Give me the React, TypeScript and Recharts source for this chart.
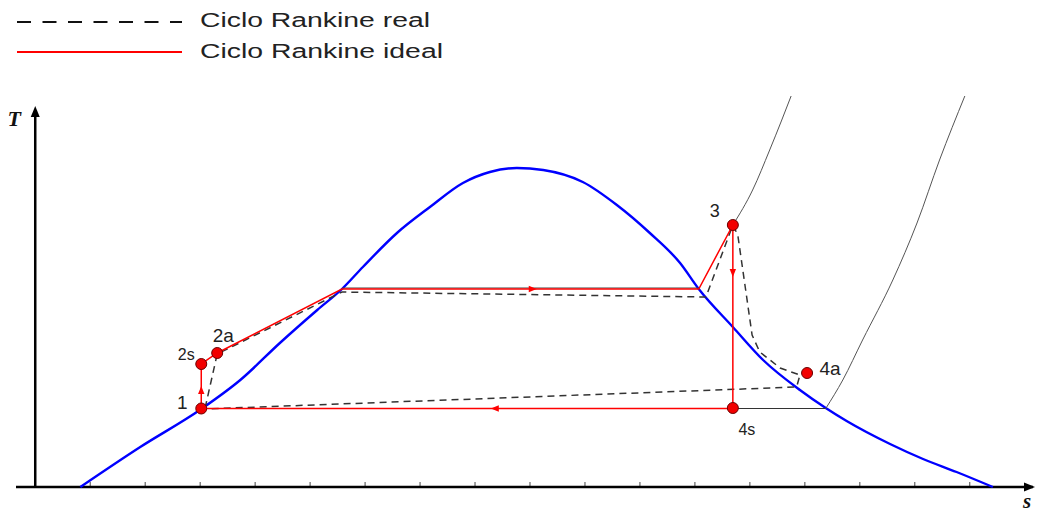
import React from 'react';
import { ScatterChart, Scatter, XAxis, YAxis, ReferenceLine, ReferenceDot, Legend } from 'recharts';

// T-s diagram, arbitrary units (s along x, T up)
const S_TICKS = [1, 2, 3, 4, 5, 6, 7, 8, 9, 10, 11, 12, 13, 14, 15, 16, 17];

// saturation dome
const DOME = [
  { s: 0.82, T: 0 }, { s: 1.91, T: 4.0 }, { s: 3.02, T: 7.8 }, { s: 3.73, T: 10.7 },
  { s: 4.45, T: 14.4 }, { s: 5.13, T: 17.7 }, { s: 5.58, T: 19.8 }, { s: 5.96, T: 22.0 },
  { s: 6.58, T: 25.4 }, { s: 7.18, T: 28.0 }, { s: 7.78, T: 30.4 }, { s: 8.27, T: 31.5 },
  { s: 8.76, T: 31.9 }, { s: 9.24, T: 31.7 }, { s: 9.96, T: 30.5 }, { s: 10.58, T: 28.2 },
  { s: 11.18, T: 25.4 }, { s: 11.73, T: 22.4 }, { s: 12.07, T: 19.8 }, { s: 12.69, T: 16.0 },
  { s: 13.24, T: 12.7 }, { s: 13.91, T: 9.7 }, { s: 14.38, T: 7.9 }, { s: 14.76, T: 6.6 },
  { s: 15.55, T: 4.3 }, { s: 16.15, T: 2.8 }, { s: 16.76, T: 1.5 }, { s: 17.42, T: 0 },
];

// isobars (thin grey)
const HIGH_P_FLAT = [{ s: 5.58, T: 19.9 }, { s: 12.07, T: 19.9 }];
const HIGH_P_SUPERHEAT = [
  { s: 12.69, T: 26.2 }, { s: 13.05, T: 29.7 }, { s: 13.36, T: 33.7 }, { s: 13.58, T: 36.7 }, { s: 13.75, T: 39.1 },
];
const LOW_P_FLAT = [{ s: 3.02, T: 7.85 }, { s: 14.38, T: 7.85 }];
const LOW_P_SUPERHEAT = [
  { s: 14.38, T: 7.85 }, { s: 14.69, T: 10.7 }, { s: 15.05, T: 14.7 }, { s: 15.6, T: 20.7 },
  { s: 16.04, T: 26.4 }, { s: 16.45, T: 32.7 }, { s: 16.91, T: 39.1 },
];

// cycles
const IDEAL_CYCLE = [
  { s: 3.02, T: 7.85 }, { s: 3.02, T: 12.3 }, { s: 3.31, T: 13.4 }, { s: 5.58, T: 19.8 },
  { s: 12.07, T: 19.8 }, { s: 12.69, T: 26.2 }, { s: 12.69, T: 7.85 }, { s: 3.02, T: 7.85 },
];
const REAL_CYCLE = [
  { s: 3.09, T: 7.9 }, { s: 3.31, T: 13.3 }, { s: 5.58, T: 19.5 }, { s: 12.2, T: 19.0 },
  { s: 12.69, T: 26.2 }, { s: 12.78, T: 25.2 }, { s: 12.91, T: 20.2 }, { s: 13.04, T: 15.2 },
  { s: 13.18, T: 13.5 }, { s: 13.55, T: 11.9 }, { s: 13.91, T: 11.2 }, { s: 13.85, T: 10.0 },
  { s: 3.09, T: 7.8 },
];

const STATES = [
  { name: '1', s: 3.02, T: 7.85 },
  { name: '2s', s: 3.02, T: 12.3 },
  { name: '2a', s: 3.31, T: 13.4 },
  { name: '3', s: 12.69, T: 26.2 },
  { name: '4s', s: 12.69, T: 7.9 },
  { name: '4a', s: 14.04, T: 11.4 },
];

const FLOW_ARROWS = [
  { s: 3.02, T: 9.7, dir: 'up' },
  { s: 9.05, T: 19.8, dir: 'right' },
  { s: 12.69, T: 21.4, dir: 'down' },
  { s: 8.36, T: 7.85, dir: 'left' },
];

const LEGEND_ITEMS = [
  { name: 'Ciclo Rankine real', color: '#111', dash: '14 11.5' },
  { name: 'Ciclo Rankine ideal', color: '#ff0000', dash: undefined },
];
// the legend lettering is drawn wide in the picture
const LEGEND_TEXT_WIDTH = [230, 243];

const LABEL_STYLE: Record<string, { dx: number; dy: number; size: number }> = {
  '1': { dx: -19, dy: -6, size: 19 },
  '2s': { dx: -15, dy: -10, size: 16 },
  '2a': { dx: 6, dy: -18, size: 19 },
  '3': { dx: -18, dy: -14, size: 18 },
  '4s': { dx: 14, dy: 21, size: 16 },
  '4a': { dx: 23, dy: -5, size: 19 },
};

const SANS = '"Liberation Sans", Arial, sans-serif';
const SERIF = '"Liberation Serif", "Times New Roman", serif';

const NoDot = () => <g />;

const StateDot = (props: any) => {
  const { cx, cy, payload } = props;
  const st = LABEL_STYLE[payload.name];
  return (
    <g>
      <circle cx={cx} cy={cy} r={5.5} fill="#f20000" stroke="#6b0000" strokeWidth={1} />
      <text x={cx + st.dx} y={cy + st.dy} textAnchor="middle" dominantBaseline="central"
        fontFamily={SANS} fontSize={st.size} fill="#222">
        {payload.name}
      </text>
    </g>
  );
};

const FlowArrow = (props: any) => {
  const { cx, cy, payload } = props;
  const rot = ({ right: 0, down: 90, left: 180, up: 270 } as Record<string, number>)[payload.dir];
  return <path d="M4,0 L-4,-3.2 L-4,3.2 Z" fill="#ff0000" transform={`translate(${cx},${cy}) rotate(${rot})`} />;
};

const XArrow = (props: any) => {
  const { cx, cy } = props;
  return (
    <g>
      <path d={`M${cx + 2},${cy} L${cx - 9},${cy - 4.5} L${cx - 9},${cy + 4.5} Z`} fill="#000" />
      <text x={cx - 6} y={cy + 21} textAnchor="middle" fontFamily={SERIF} fontSize={21}
        fontWeight="bold" fontStyle="italic" fill="#111">s</text>
    </g>
  );
};

const YArrow = (props: any) => {
  const { cx, cy } = props;
  return (
    <g>
      <path d={`M${cx},${cy - 2} L${cx - 4.5},${cy + 9} L${cx + 4.5},${cy + 9} Z`} fill="#000" />
      <text x={cx - 21} y={cy + 18} textAnchor="middle" fontFamily={SERIF} fontSize={22}
        fontWeight="bold" fontStyle="italic" fill="#111">T</text>
    </g>
  );
};

const LegendBox = () => (
  <svg width={470} height={66}>
    {LEGEND_ITEMS.map((item, i) => (
      <g key={item.name}>
        <line x1={17} x2={182} y1={22 + i * 30} y2={22 + i * 30} stroke={item.color}
          strokeWidth={2} strokeDasharray={item.dash} />
        <text x={200} y={20 + i * 31} dominantBaseline="central" fontFamily={SANS}
          fontSize={20} fill="#222" textLength={LEGEND_TEXT_WIDTH[i]} lengthAdjust="spacingAndGlyphs">
          {item.name}
        </text>
      </g>
    ))}
  </svg>
);

export default function App() {
  return (
    <div style={{ position: 'fixed', left: 0, top: 0, background: '#fff' }}>
      <ScatterChart width={1047} height={514} margin={{ top: 96, right: 14, bottom: 27, left: 16 }}>
        <XAxis type="number" dataKey="s" domain={[-0.35, 18.15]} ticks={S_TICKS} interval={0}
          mirror tick={false} tickLine={false} axisLine={{ stroke: '#000', strokeWidth: 2.5 }} />
        <YAxis type="number" dataKey="T" domain={[0, 39.1]} hide />
        <Legend layout="horizontal" verticalAlign="middle" align="center"
          wrapperStyle={{ top: 0, left: 0, width: 470, height: 66 }} content={LegendBox} />

        {S_TICKS.map((k) => (
          <ReferenceLine key={k} segment={[{ x: k, y: 0 }, { x: k, y: 0.5 }]} stroke="#444" strokeWidth={1} />
        ))}
        <ReferenceLine segment={[{ x: 0, y: 0 }, { x: 0, y: 37.6 }]} stroke="#000" strokeWidth={2.5} />
        <ReferenceDot x={18.15} y={0} ifOverflow="visible" shape={XArrow} />
        <ReferenceDot x={0} y={37.9} ifOverflow="visible" shape={YArrow} />

        <Scatter name="dome" data={DOME} legendType="none" shape={NoDot} isAnimationActive={false}
          line={{ stroke: '#0000ff', strokeWidth: 2.4 }} lineJointType="monotoneX" />
        <Scatter name="high p" data={HIGH_P_FLAT} legendType="none" shape={NoDot} isAnimationActive={false}
          line={{ stroke: '#444', strokeWidth: 1 }} />
        <Scatter name="high p sh" data={HIGH_P_SUPERHEAT} legendType="none" shape={NoDot} isAnimationActive={false}
          line={{ stroke: '#555', strokeWidth: 1 }} lineJointType="monotoneX" />
        <Scatter name="low p" data={LOW_P_FLAT} legendType="none" shape={NoDot} isAnimationActive={false}
          line={{ stroke: '#333', strokeWidth: 1 }} />
        <Scatter name="low p sh" data={LOW_P_SUPERHEAT} legendType="none" shape={NoDot} isAnimationActive={false}
          line={{ stroke: '#555', strokeWidth: 1 }} lineJointType="monotoneX" />

        <Scatter name="Ciclo Rankine real" data={REAL_CYCLE} shape={NoDot} isAnimationActive={false}
          line={{ stroke: '#333', strokeWidth: 1.5, strokeDasharray: '7 5' }} />
        <Scatter name="Ciclo Rankine ideal" data={IDEAL_CYCLE} shape={NoDot} isAnimationActive={false}
          line={{ stroke: '#ff0000', strokeWidth: 1.5 }} />

        <Scatter name="arrows" data={FLOW_ARROWS} legendType="none" shape={FlowArrow} isAnimationActive={false} />
        <Scatter name="states" data={STATES} legendType="none" shape={StateDot} isAnimationActive={false} />
      </ScatterChart>
    </div>
  );
}
